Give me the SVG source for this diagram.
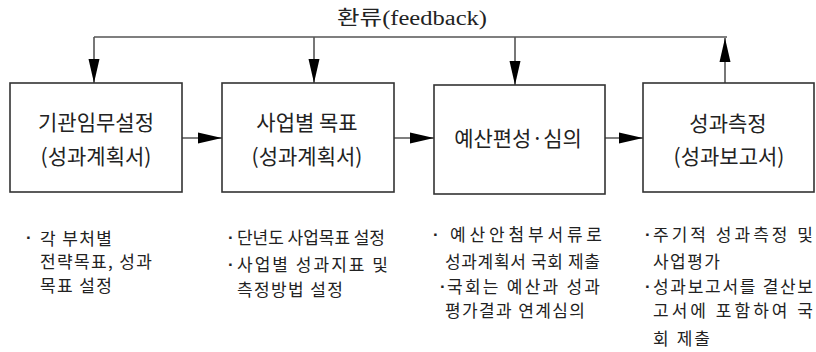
<svg xmlns="http://www.w3.org/2000/svg" width="816" height="352" viewBox="0 0 816 352">
<style>
.box{fill:#fff;stroke:#333;stroke-width:1.6}
.con{fill:none;stroke:#555;stroke-width:1.6}
.lbl{font-family:"Noto Sans CJK KR","Liberation Sans",sans-serif;font-size:21px;fill:#222;text-anchor:middle}
.note{font-family:"Noto Sans CJK KR","Liberation Sans",sans-serif;font-size:17px;fill:#222}
.bul{font-family:"Liberation Sans",sans-serif;font-size:17px;font-weight:bold;fill:#222}
.title{font-family:"Liberation Serif","Noto Sans CJK KR",serif;font-size:20px;fill:#222}
</style>
<defs>
<marker id="ah" markerUnits="userSpaceOnUse" markerWidth="24" markerHeight="12" refX="24" refY="6" orient="auto">
<path d="M0,0.5 L24,6 L0,11.5 z" fill="#000"/>
</marker>
</defs>
<text class="title" x="337" y="25" textLength="150" lengthAdjust="spacingAndGlyphs">환류(feedback)</text>
<g id="connectors">
<path class="con" d="M94,37 H727"/>
<path class="con" d="M94,37 V83" marker-end="url(#ah)"/>
<path class="con" d="M314,37 V83" marker-end="url(#ah)"/>
<path class="con" d="M515,37 V85" marker-end="url(#ah)"/>
<path class="con" d="M725,83 V38" marker-end="url(#ah)"/>
<path class="con" d="M182,138 H222" marker-end="url(#ah)"/>
<path class="con" d="M394,138 H434" marker-end="url(#ah)"/>
<path class="con" d="M605,138 H643" marker-end="url(#ah)"/>
</g>
<g id="node1">
<rect class="box" x="10" y="83" width="172" height="109"/>
<text class="lbl" x="96" y="130">기관임무설정</text>
<text class="lbl" x="96" y="164">(성과계획서)</text>
</g>
<g id="node2">
<rect class="box" x="222" y="83" width="172" height="109"/>
<text class="lbl" x="307" y="130">사업별 목표</text>
<text class="lbl" x="307" y="164">(성과계획서)</text>
</g>
<g id="node3">
<rect class="box" x="434" y="85" width="171" height="109"/>
<text class="lbl" x="518" y="146">예산편성·심의</text>
</g>
<g id="node4">
<rect class="box" x="643" y="83" width="171" height="109"/>
<text class="lbl" x="728" y="131">성과측정</text>
<text class="lbl" x="729" y="164">(성과보고서)</text>
</g>
<g id="notes1">
<text class="bul" x="26" y="243">·</text>
<text class="note" x="40" y="245" textLength="72">각 부처별</text>
<text class="note" x="40" y="268" textLength="112">전략목표, 성과</text>
<text class="note" x="40" y="292" textLength="72">목표 설정</text>
</g>
<g id="notes2">
<text class="bul" x="228" y="243">·</text>
<text class="note" x="237" y="244" textLength="148">단년도 사업목표 설정</text>
<text class="bul" x="228" y="270">·</text>
<text class="note" x="237" y="271" textLength="151">사업별 성과지표 및</text>
<text class="note" x="237" y="296" textLength="106">측정방법 설정</text>
</g>
<g id="notes3">
<text class="bul" x="433" y="240">·</text>
<text class="note" x="450" y="241" textLength="152">예 산 안 첨 부 서 류 로</text>
<text class="note" x="445" y="268" textLength="155">성과계획서 국회 제출</text>
<text class="bul" x="440" y="292">·</text>
<text class="note" x="447" y="293" textLength="153">국회는 예산과 성과</text>
<text class="note" x="445" y="317" textLength="140">평가결과 연계심의</text>
</g>
<g id="notes4">
<text class="bul" x="645" y="240">·</text>
<text class="note" x="653" y="241" textLength="160">주기적 성과측정 및</text>
<text class="note" x="653" y="268" textLength="67">사업평가</text>
<text class="bul" x="645" y="292">·</text>
<text class="note" x="653" y="293" textLength="160">성과보고서를 결산보</text>
<text class="note" x="653" y="317" textLength="160">고서에 포함하여 국</text>
<text class="note" x="653" y="345" textLength="57">회 제출</text>
</g>
</svg>
